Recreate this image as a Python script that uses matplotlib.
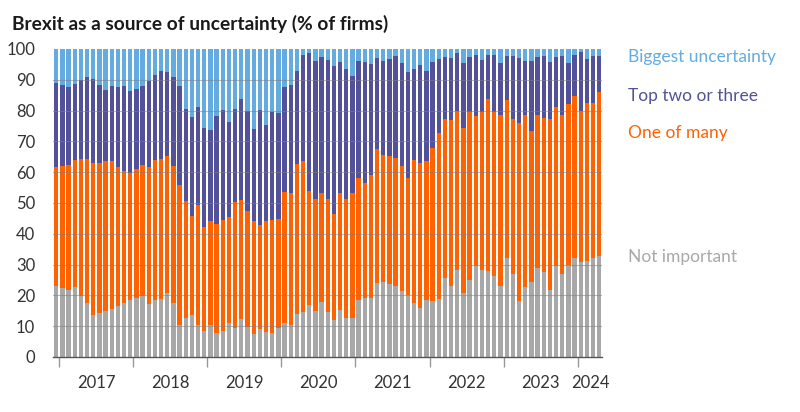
import numpy as np
import matplotlib
matplotlib.use('Agg')
from matplotlib import pyplot as plt

# monthly survey, Dec 2016 .. Apr 2024 (cumulative tops)
not_important = [23.2, 22.5, 21.7, 22.8, 19.8, 17.4, 13.5, 14.2, 14.9, 15.5, 16.5, 17.4,
                 18.5, 19.1, 19.7, 17.1, 18.5, 18.8, 20.8, 17.4, 10.4, 12.5, 13.6, 10.5,
                 8.4, 10.5, 7.9, 8.3, 11.1, 9.5, 12.2, 9.8, 7.5, 9.1, 8.2, 7.7,
                 9.4, 11.2, 10.5, 13.8, 14.5, 16.9, 14.9, 17.8, 14.5, 12.0, 15.1, 12.6,
                 12.5, 18.5, 19.1, 19.0, 23.9, 24.2, 23.6, 23.2, 21.4, 20.1, 17.4, 16.0,
                 18.6, 18.1, 18.9, 25.8, 23.2, 28.1, 20.9, 25.0, 29.7, 28.4, 27.9, 26.3,
                 22.9, 32.0, 26.8, 18.1, 22.8, 24.3, 29.0, 27.5, 21.9, 29.4, 26.8, 29.9,
                 32.1, 30.7, 31.1, 32.1, 32.9]
one_of_many_top = [61.7, 62.1, 62.4, 64.1, 64.4, 64.4, 63.1, 63.1, 63.5, 63.5, 61.7, 60.4,
                   59.6, 60.9, 62.2, 61.8, 63.8, 64.4, 65.1, 62.1, 56.0, 50.7, 45.7, 49.5,
                   42.3, 44.3, 43.2, 44.6, 45.5, 50.4, 51.0, 47.4, 44.0, 42.7, 44.3, 44.6,
                   44.8, 53.5, 53.3, 62.5, 63.5, 53.9, 51.4, 53.3, 51.4, 46.4, 53.1, 51.4,
                   53.4, 58.1, 56.5, 59.1, 67.4, 65.7, 65.3, 64.6, 61.9, 58.2, 63.9, 62.9,
                   63.7, 68.0, 72.8, 77.2, 76.8, 79.9, 74.4, 79.6, 78.4, 79.6, 83.7, 79.5,
                   78.7, 83.6, 77.4, 75.9, 78.6, 73.5, 78.7, 77.6, 77.2, 81.2, 78.7, 82.0,
                   84.6, 79.9, 82.5, 82.5, 85.9]
top_two_top = [88.9, 88.2, 87.5, 88.6, 89.9, 91.0, 90.1, 88.4, 86.8, 87.9, 87.5, 87.9,
               86.3, 87.1, 88.1, 89.7, 91.7, 92.9, 92.4, 90.9, 87.9, 80.5, 77.9, 81.2,
               74.5, 73.6, 78.1, 80.3, 76.4, 80.6, 83.8, 79.8, 73.9, 80.3, 75.2, 79.5,
               79.1, 87.8, 88.2, 92.9, 97.9, 98.7, 96.1, 97.5, 96.5, 94.4, 95.8, 93.6,
               91.1, 96.2, 95.8, 95.2, 97.0, 96.2, 96.6, 97.6, 95.5, 92.6, 93.6, 94.8,
               93.0, 95.9, 96.6, 97.4, 97.1, 98.7, 95.5, 97.5, 98.2, 96.5, 97.9, 98.2,
               95.6, 97.7, 97.7, 97.1, 96.1, 96.2, 97.5, 97.8, 95.7, 97.3, 97.8, 95.6,
               97.9, 98.9, 96.6, 97.7, 97.8]
years = ['2017', '2018', '2019', '2020', '2021', '2022', '2023', '2024']

grey = np.array(not_important)
orange = np.array(one_of_many_top) - grey
purple = np.array(top_two_top) - np.array(one_of_many_top)
blue = 100 - np.array(top_two_top)

c_blue = '#63ABE0'
c_purple = '#525199'
c_orange = '#FF6200'
c_grey = '#A8A8A8'

plt.rcParams['font.family'] = ['Lato', 'DejaVu Sans']

fig = plt.figure(figsize=(8, 4.12), dpi=100)
ax = fig.add_axes([0.0664, 0.1335, 0.6865, 0.7476])

x = np.arange(len(grey))
w = 0.7
ax.bar(x, grey, w, color=c_grey, zorder=2)
ax.bar(x, orange, w, bottom=grey, color=c_orange, zorder=2)
ax.bar(x, purple, w, bottom=grey + orange, color=c_purple, zorder=2)
ax.bar(x, blue, w, bottom=grey + orange + purple, color=c_blue, zorder=2)

for v in range(10, 100, 10):
    ax.axhline(v, color='#808080', lw=0.8, alpha=0.55, zorder=3)

ax.set_xlim(-0.5, len(grey) - 0.5)
ax.set_ylim(0, 100)
ax.set_yticks(range(0, 101, 10))
ax.tick_params(axis='y', length=0, labelsize=12, colors='#333333', pad=13)

bounds = [0.5 + 12 * k for k in range(8)]
ax.set_xticks(bounds)
ax.set_xticklabels([])
ax.tick_params(axis='x', which='major', length=7, width=1, color='#999999')
centers = [(bounds[k] + (bounds[k + 1] if k + 1 < len(bounds) else len(grey) - 0.5)) / 2
           for k in range(len(bounds))]
ax.set_xticks(centers, minor=True)
ax.set_xticklabels(years, minor=True)
ax.tick_params(axis='x', which='minor', length=0, labelsize=12, colors='#333333', pad=13)

for s in ['top', 'right', 'left']:
    ax.spines[s].set_visible(False)
ax.spines['bottom'].set_color('#555555')
ax.spines['bottom'].set_linewidth(1)

fig.text(0.015, 0.943, 'Brexit as a source of uncertainty (% of firms)', fontsize=13.8,
         fontweight='bold', color='#1a1a1a', va='center')

labels = [('Biggest uncertainty', c_blue, 57), ('Top two or three', c_purple, 96),
          ('One of many', c_orange, 133), ('Not important', c_grey, 257)]
for t, c, yp in labels:
    fig.text(628 / 800, 1 - yp / 412, t, color=c, fontsize=12.5, va='center')

fig.savefig('out.png', dpi=100)
